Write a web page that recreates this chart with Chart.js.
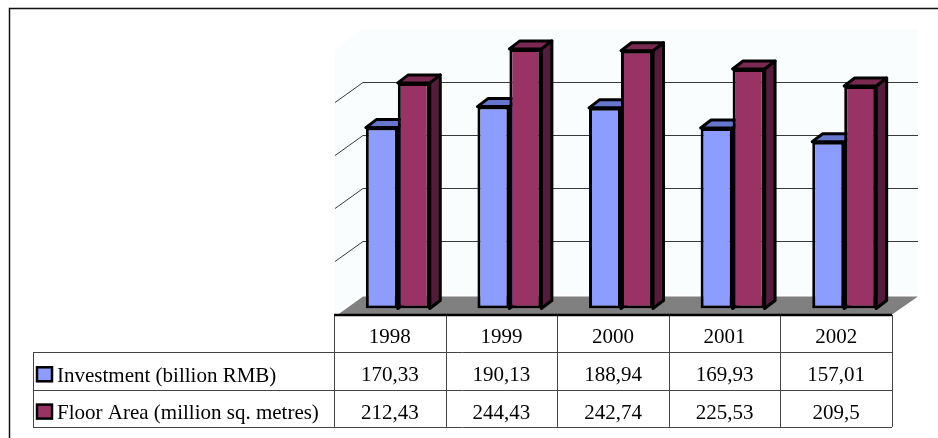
<!DOCTYPE html>
<html>
<head>
<meta charset="utf-8">
<script src="https://cdn.jsdelivr.net/npm/chart.js@4"></script>
<style>
  html, body { margin: 0; padding: 0; background: #ffffff; }
  canvas { display: block; }
</style>
</head>
<body>
<canvas id="chart" width="938" height="438"></canvas>
<script>
// Housing construction, 1998-2002
const years = ['1998', '1999', '2000', '2001', '2002'];
const seriesNames = ['Investment (billion RMB)', 'Floor Area (million sq. metres)'];
const investment = [170.33, 190.13, 188.94, 169.93, 157.01];
const floorArea = [212.43, 244.43, 242.74, 225.53, 209.5];
const gridValues = [50, 100, 150, 200];
const axisMax = 250;

// Comma decimal separator, as in the data table
const fmt = v => String(v).replace('.', ',');

const colors = {
  front: ['#8C9CFF', '#993366'],
  top:   ['#6676CC', '#7A2952'],
  side:  ['#5A68B8', '#521C3A'],
  wall: '#FAFDFE',
  floor: '#808080',
  grid: '#3a3a3a'
};

// 3D offsets (pixels) for bar depth and for the back wall
const BAR_DEPTH = { dx: 10.5, dy: -8 };
const WALL = { dx: 21, dy: -14 };
const SIDE_WALL = { dx: -28, dy: 20 };

function poly(ctx, pts, fill, stroke, lw) {
  ctx.beginPath();
  ctx.moveTo(pts[0][0], pts[0][1]);
  for (let i = 1; i < pts.length; i++) ctx.lineTo(pts[i][0], pts[i][1]);
  ctx.closePath();
  if (fill) { ctx.fillStyle = fill; ctx.fill(); }
  if (stroke) { ctx.strokeStyle = stroke; ctx.lineWidth = lw || 1; ctx.stroke(); }
}

const scene3d = {
  id: 'scene3d',
  beforeDatasetsDraw(chart) {
    const ctx = chart.ctx;
    const { left, right } = chart.chartArea;
    const ys = chart.scales.y;
    const yb = v => ys.getPixelForValue(v) + WALL.dy;
    const bx0 = left + WALL.dx;
    const bx1 = right + 18;
    const sx = bx0 + SIDE_WALL.dx;
    ctx.save();

    // walls
    poly(ctx, [[bx0, yb(axisMax)], [bx1, yb(axisMax)], [bx1, yb(0)], [bx0, yb(0)]], colors.wall);
    poly(ctx, [[bx0, yb(axisMax)], [sx, yb(axisMax) + SIDE_WALL.dy], [sx, yb(0) + SIDE_WALL.dy], [bx0, yb(0)]], colors.wall);

    // gridlines on back and side walls
    ctx.strokeStyle = colors.grid;
    ctx.lineWidth = 1;
    gridValues.forEach(v => {
      const y = Math.round(yb(v)) + 0.5;
      ctx.beginPath();
      ctx.moveTo(bx0, y);
      ctx.lineTo(bx1, y);
      ctx.stroke();
      ctx.beginPath();
      ctx.moveTo(bx0, y);
      ctx.lineTo(sx, y + SIDE_WALL.dy);
      ctx.stroke();
    });

    // floor
    const y0 = ys.getPixelForValue(0);
    poly(ctx, [[left - 4, y0 + 6], [bx0, yb(0) + 2], [bx1, yb(0) + 2], [right - 8, y0 + 6]], colors.floor);

    // top and side faces of every bar (fronts are drawn by Chart.js afterwards)
    ctx.lineJoin = 'round';
    chart.data.datasets.forEach((ds, di) => {
      chart.getDatasetMeta(di).data.forEach(el => {
        const p = el.getProps(['x', 'y', 'base', 'width'], true);
        const l = p.x - p.width / 2, r = p.x + p.width / 2;
        const t = p.y, b = p.base;
        const dx = BAR_DEPTH.dx, dy = BAR_DEPTH.dy;
        poly(ctx, [[r, t], [r + dx, t + dy], [r + dx, b + dy], [r, b]], colors.side[di], '#000', 3);
        poly(ctx, [[l, t], [r, t], [r + dx, t + dy], [l + dx, t + dy]], colors.top[di], '#000', 3);
      });
    });
    ctx.restore();
  },
  afterDraw(chart) {
    const ctx = chart.ctx;
    const { left, right } = chart.chartArea;
    const ys = chart.scales.y;
    const y0 = ys.getPixelForValue(0);
    const colW = (right - left) / years.length;
    const tx0 = left - 8;
    const tx1 = tx0 + colW * years.length;
    const legendX = 33;
    const rowH = 37.3;
    const rTop = [y0 + 6.5, y0 + 6.5 + rowH, y0 + 6.5 + 2 * rowH];
    const rBot = rTop[2] + rowH;
    ctx.save();

    // table grid
    ctx.strokeStyle = '#444';
    ctx.lineWidth = 1;
    const hline = (x1, x2, y) => { y = Math.round(y) + 0.5; ctx.beginPath(); ctx.moveTo(x1, y); ctx.lineTo(x2, y); ctx.stroke(); };
    const vline = (x, y1, y2) => { x = Math.round(x) + 0.5; ctx.beginPath(); ctx.moveTo(x, y1); ctx.lineTo(x, y2); ctx.stroke(); };
    hline(legendX, tx1, rTop[1]);
    hline(legendX, tx1, rTop[2]);
    hline(legendX, tx1, rBot);
    vline(legendX, rTop[1], rBot);
    for (let i = 0; i <= years.length; i++) vline(tx0 + i * colW, rTop[0], rBot);
    ctx.strokeStyle = '#000';
    ctx.lineWidth = 2.5;
    ctx.beginPath();
    ctx.moveTo(tx0, Math.round(rTop[0]));
    ctx.lineTo(tx1, Math.round(rTop[0]));
    ctx.stroke();

    // table text
    ctx.fillStyle = '#000';
    ctx.font = '21px "Liberation Serif", "Times New Roman", serif';
    ctx.textAlign = 'center';
    ctx.textBaseline = 'alphabetic';
    years.forEach((yr, i) => ctx.fillText(yr, tx0 + (i + 0.5) * colW, rTop[0] + 27.5));
    [investment, floorArea].forEach((vals, si) => {
      vals.forEach((v, i) => ctx.fillText(fmt(v), tx0 + (i + 0.5) * colW, rTop[si + 1] + 29));
    });

    // legend keys and series names
    ctx.textAlign = 'left';
    seriesNames.forEach((name, si) => {
      const top = rTop[si + 1];
      ctx.fillStyle = colors.front[si];
      ctx.fillRect(37, top + 15, 15, 14);
      ctx.strokeStyle = '#000';
      ctx.lineWidth = 2.5;
      ctx.strokeRect(37, top + 15, 15, 14);
      ctx.fillStyle = '#000';
      ctx.fillText(name, 57, top + 29.5);
    });

    // outer frame
    ctx.strokeStyle = '#111';
    ctx.lineWidth = 1.5;
    ctx.strokeRect(9.5, 8.5, 960, 460);
    ctx.restore();
  }
};

new Chart(document.getElementById('chart'), {
  type: 'bar',
  data: {
    labels: years,
    datasets: [
      { label: seriesNames[0], data: investment, backgroundColor: colors.front[0] },
      { label: seriesNames[1], data: floorArea, backgroundColor: colors.front[1] }
    ]
  },
  options: {
    responsive: false,
    animation: false,
    devicePixelRatio: 1,
    layout: { padding: { left: 342, right: 38, top: 43, bottom: 129.5 } },
    datasets: {
      bar: {
        categoryPercentage: 0.573,
        barPercentage: 1.0,
        borderColor: '#000',
        borderWidth: 3,
        borderSkipped: false
      }
    },
    plugins: { legend: { display: false }, tooltip: { enabled: false } },
    scales: {
      x: { display: false },
      y: { display: false, min: 0, max: axisMax, ticks: { stepSize: 50 } }
    }
  },
  plugins: [scene3d]
});
</script>
</body>
</html>
